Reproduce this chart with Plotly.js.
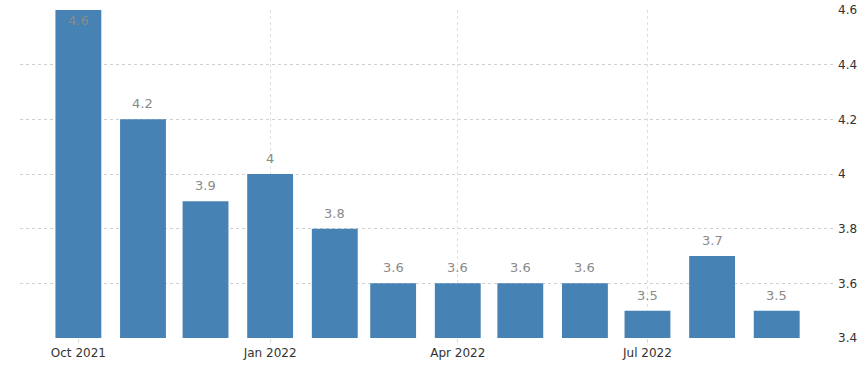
<!DOCTYPE html>
<html>
<head>
<meta charset="utf-8">
<script src="https://cdn.plot.ly/plotly-3.0.1.min.js"></script>
<style>html,body{margin:0;padding:0;background:#fff;}#chart{width:865px;height:366px;}</style>
</head>
<body>
<div id="chart"></div>
<script>
const months = ['2021-10-01','2021-11-01','2021-12-01','2022-01-01','2022-02-01','2022-03-01','2022-04-01','2022-05-01','2022-06-01','2022-07-01','2022-08-01','2022-09-01'];
const values = [4.6, 4.2, 3.9, 4, 3.8, 3.6, 3.6, 3.6, 3.6, 3.5, 3.7, 3.5];
const tickDates = ['2021-10-01','2022-01-01','2022-04-01','2022-07-01'];
const tickLabels = ['Oct 2021','Jan 2022','Apr 2022','Jul 2022'];
const yTicks = [3.4, 3.6, 3.8, 4, 4.2, 4.4, 4.6];

const FONT = 'DejaVu Sans, Verdana, sans-serif';
const LABEL_COLOR = '#8a8a8a';
const yMax = 4.6;

// Bars reaching the top of the axis carry their label inside; others get a label above
const insideText = values.map(v => v >= yMax ? String(v) : '');

const trace = {
  type: 'bar',
  x: months,
  y: values,
  text: insideText,
  textposition: 'inside',
  insidetextanchor: 'end',
  insidetextfont: {family: FONT, size: 13, color: LABEL_COLOR},
  marker: {color: '#4682b4', line: {width: 0}},
  width: 22 * 86400000,
  cliponaxis: false,
  hoverinfo: 'x+y'
};

const annotations = months.map((m, i) => ({
  x: m,
  y: values[i],
  xref: 'x',
  yref: 'y',
  text: String(values[i]),
  showarrow: false,
  yanchor: 'bottom',
  yshift: 6,
  font: {family: FONT, size: 13, color: LABEL_COLOR}
})).filter((a, i) => values[i] < yMax);

const layout = {
  width: 865,
  height: 366,
  margin: {l: 20, r: 32, t: 10, b: 28},
  paper_bgcolor: '#ffffff',
  plot_bgcolor: '#ffffff',
  showlegend: false,
  font: {family: FONT, size: 12, color: '#333333'},
  annotations: annotations,
  xaxis: {
    type: 'date',
    range: ['2021-09-03', '2022-09-28'],
    tickmode: 'array',
    tickvals: tickDates,
    ticktext: tickLabels,
    showgrid: true,
    gridcolor: '#e0e0e0',
    griddash: 'dot',
    gridwidth: 1,
    ticks: 'outside',
    ticklen: 4,
    tickcolor: '#dcdcdc',
    showline: false,
    zeroline: false,
    tickfont: {size: 12, color: '#333333'}
  },
  yaxis: {
    side: 'right',
    range: [3.4, 4.6],
    tickmode: 'array',
    tickvals: yTicks,
    ticktext: yTicks.map(v => String(v)),
    showgrid: true,
    gridcolor: '#d0d0d0',
    griddash: 'dot',
    gridwidth: 1,
    zeroline: false,
    showline: false,
    ticks: '',
    ticklabelstandoff: 4,
    tickfont: {size: 12, color: '#333333'}
  }
};

Plotly.newPlot('chart', [trace], layout, {displayModeBar: false, staticPlot: true});
</script>
</body>
</html>
